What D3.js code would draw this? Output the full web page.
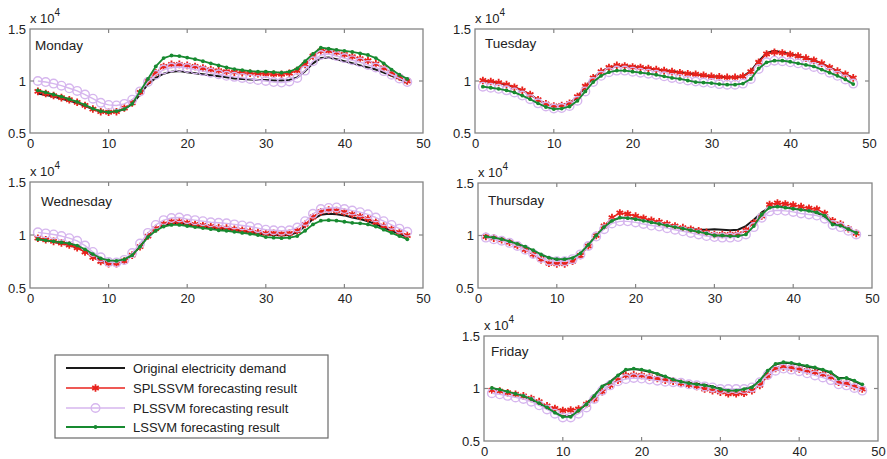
<!DOCTYPE html>
<html><head><meta charset="utf-8">
<script src="https://cdn.jsdelivr.net/npm/d3@7"></script>
<style>body{margin:0;background:#fff;} svg{display:block;} text{font-family:"Liberation Sans",Arial,Helvetica,sans-serif;fill:#222;}</style>
</head><body><svg id="c" width="887" height="459"></svg>
<script>
// half-hour periods
const periods = d3.range(1, 49);
const seriesNames = ["Original electricity demand","SPLSSVM forecasting result","PLSSVM forecasting result","LSSVM forecasting result"];
const days = ["Monday","Tuesday","Wednesday","Thursday","Friday"];
const xTicks = [0,10,20,30,40,50];
const yTicks = [5000,10000,15000];
const yTickLabels = ["0.5","1","1.5"];

const monOriginal = [8800,8650,8500,8300,8100,7900,7600,7300,7050,7000,7050,7300,7800,8700,9700,10300,10700,10900,10950,10850,10750,10650,10550,10450,10350,10250,10200,10150,10100,10100,10050,10050,10100,10350,10950,11700,12200,12250,12100,11900,11700,11500,11300,11100,10800,10500,10200,9800];
const monSPLSSVM = [9000,8800,8600,8400,8200,7950,7650,7300,7050,7000,7050,7400,7900,8900,10000,10800,11400,11600,11600,11500,11400,11250,11100,11000,10900,10850,10800,10750,10700,10700,10650,10650,10750,11000,11600,12400,12900,12900,12750,12550,12350,12150,11950,11650,11250,10800,10400,10000];
const monPLSSVM = [10000,9900,9750,9550,9300,9050,8700,8300,7900,7700,7650,7800,8200,9000,9900,10600,11100,11300,11350,11250,11100,10950,10800,10650,10500,10400,10300,10200,10100,10000,9900,9850,9950,10300,11000,11900,12500,12600,12400,12200,12000,11800,11550,11300,10950,10600,10250,9900];
const monLSSVM = [9100,8900,8700,8500,8250,8000,7700,7350,7100,7000,7100,7300,7800,9000,10200,11400,12200,12450,12400,12250,12100,11900,11700,11500,11300,11150,11050,10950,10900,10900,10850,10800,10900,11200,11900,12600,13200,13100,13000,12900,12800,12650,12500,12200,11700,11100,10600,10200];

const tueOriginal = [10000,9950,9800,9650,9400,9100,8700,8200,7800,7600,7650,7850,8450,9450,10300,10900,11300,11450,11450,11350,11300,11200,11100,11000,10950,10850,10750,10650,10550,10450,10400,10350,10350,10450,10950,11900,12700,12900,12750,12600,12400,12200,12000,11700,11300,10950,10650,10300];
const tueSPLSSVM = [10050,9950,9850,9650,9400,9100,8700,8200,7800,7600,7650,7850,8500,9500,10300,10900,11300,11500,11450,11350,11300,11200,11100,11000,10900,10800,10700,10650,10550,10450,10400,10350,10350,10450,10900,11800,12600,12750,12700,12550,12400,12200,12000,11700,11300,10950,10650,10300];
const tuePLSSVM = [9450,9350,9250,9100,8900,8600,8250,7850,7550,7350,7400,7600,8100,9000,9900,10500,10850,11000,11000,10900,10800,10700,10600,10450,10300,10200,10050,9950,9850,9800,9700,9650,9650,9750,10200,11150,11800,11950,11900,11800,11700,11550,11350,11100,10800,10500,10150,9750];
const tueLSSVM = [9450,9350,9250,9100,8900,8600,8250,7850,7500,7300,7350,7550,8100,9000,9900,10500,10850,11000,11000,10900,10800,10700,10600,10450,10300,10200,10050,9900,9850,9800,9700,9650,9650,9750,10200,11200,11800,11950,11950,11850,11700,11550,11400,11100,10800,10500,10150,9700];

const wedOriginal = [9650,9500,9350,9200,9050,8800,8450,8000,7600,7400,7400,7600,8100,8900,9900,10550,10950,11100,11100,11000,10900,10800,10700,10600,10550,10450,10350,10250,10150,10050,10000,9950,10000,10250,10850,11500,11900,12000,11950,11850,11650,11500,11300,11000,10700,10400,10100,9800];
const wedSPLSSVM = [9700,9550,9400,9250,9050,8800,8400,7900,7500,7300,7300,7550,8100,8900,9900,10600,11050,11250,11250,11150,11000,10900,10800,10700,10650,10550,10450,10350,10250,10150,10150,10100,10150,10400,11000,11700,12200,12350,12300,12150,11950,11750,11550,11200,10850,10550,10250,9950];
const wedPLSSVM = [10250,10150,10050,9900,9700,9450,9000,8400,7900,7450,7400,7650,8300,9200,10200,10950,11400,11600,11650,11500,11400,11300,11200,11150,11100,11000,10900,10800,10650,10500,10450,10400,10450,10700,11300,12000,12450,12550,12600,12450,12300,12150,11950,11650,11300,10950,10600,10300];
const wedLSSVM = [9600,9500,9400,9300,9200,9000,8650,8200,7800,7600,7550,7700,8100,8900,9800,10400,10800,10950,10950,10850,10750,10650,10550,10450,10400,10300,10200,10100,10000,9800,9750,9700,9750,9900,10400,11000,11350,11400,11350,11250,11150,11100,11000,10800,10500,10200,9900,9600];

const thuOriginal = [9900,9800,9650,9450,9200,8900,8550,8150,7850,7700,7700,7850,8300,9100,10000,10800,11400,11700,11700,11600,11450,11300,11150,11000,10850,10700,10600,10550,10550,10600,10550,10500,10550,10900,11500,12200,12650,12800,12700,12550,12450,12350,12150,11800,11200,11050,10600,10200];
const thuSPLSSVM = [9900,9750,9600,9350,9050,8650,8200,7700,7350,7300,7300,7550,8100,9000,10000,10900,11700,12150,12050,11850,11650,11450,11300,11100,10900,10750,10600,10450,10300,10100,10100,10100,10150,10500,11200,11850,12950,13100,13000,12900,12750,12600,12500,12100,11400,11100,10650,10200];
const thuPLSSVM = [9800,9650,9500,9300,9000,8650,8250,7850,7600,7550,7550,7750,8200,9000,9900,10600,11150,11350,11350,11250,11100,10950,10850,10700,10550,10400,10250,10100,9950,9850,9800,9800,9850,10100,10800,11700,12300,12400,12350,12250,12100,12000,11900,11600,11000,10800,10450,10100];
const thuLSSVM = [9900,9800,9650,9450,9200,8950,8600,8200,7900,7750,7750,7850,8300,9100,10000,10800,11400,11700,11650,11550,11400,11250,11100,10950,10800,10650,10500,10350,10200,10000,10000,9950,9950,10100,10900,12000,12650,12750,12650,12550,12450,12350,12200,11900,11050,10950,10600,10250];

const friOriginal = [10000,9850,9650,9450,9250,8950,8550,8150,7700,7350,7350,7900,8550,9350,10200,10650,11250,11750,11850,11750,11600,11400,11100,10850,10650,10550,10450,10350,10200,10000,9850,9850,9950,10150,10750,11650,12300,12450,12400,12250,12100,11950,11750,11500,11000,11000,10700,10350];
const friSPLSSVM = [9850,9750,9600,9450,9300,9050,8750,8350,8100,7900,7950,8050,8500,9000,9700,10300,10800,11250,11300,11250,11100,10950,10800,10700,10500,10350,10200,9950,9800,9650,9500,9500,9550,9800,10300,11200,11900,12050,11950,11850,11700,11550,11350,11100,10600,10500,10200,9950];
const friPLSSVM = [9550,9450,9300,9150,9000,8750,8400,8000,7600,7250,7250,7600,8200,9000,9800,10300,10700,10900,11000,10950,10850,10750,10650,10600,10550,10400,10300,10200,10100,9950,9950,9950,9950,10100,10600,11300,11700,11900,11800,11650,11450,11250,11050,10800,10400,10300,10050,9800];
const friLSSVM = [10050,9900,9700,9500,9300,9000,8600,8200,7700,7300,7300,7900,8500,9300,10200,10600,11250,11800,11900,11800,11650,11400,11150,10850,10650,10500,10400,10300,10150,9950,9800,9800,9950,10100,10750,11700,12350,12500,12450,12300,12150,12000,11800,11550,10950,11000,10750,10400];

const dayData = {
  Monday:[monOriginal,monSPLSSVM,monPLSSVM,monLSSVM],
  Tuesday:[tueOriginal,tueSPLSSVM,tuePLSSVM,tueLSSVM],
  Wednesday:[wedOriginal,wedSPLSSVM,wedPLSSVM,wedLSSVM],
  Thursday:[thuOriginal,thuSPLSSVM,thuPLSSVM,thuLSSVM],
  Friday:[friOriginal,friSPLSSVM,friPLSSVM,friLSSVM]
};

// layout / style
const layout = {
  Monday:{x0:30,x1:423,y0:29,y1:133,lx:5,ly:21},
  Tuesday:{x0:475,x1:869,y0:29,y1:133,lx:10,ly:19},
  Wednesday:{x0:30,x1:423,y0:182,y1:288,lx:11,ly:24},
  Thursday:{x0:478,x1:872,y0:183,y1:288,lx:10,ly:22},
  Friday:{x0:484,x1:878,y0:336,y1:441,lx:7,ly:20}
};
const styles = [
  {color:"#1a1a1a", width:2, marker:"none"},
  {color:"#e8221c", width:1.5, marker:"star"},
  {color:"#d6b6ee", width:1.4, marker:"circle"},
  {color:"#178a30", width:1.8, marker:"dot"}
];
const axisColor = "#858585";

const svg = d3.select("#c");
const star = d3.symbol().type(d3.symbolAsterisk).size(40);

function drawMarkers(g, pts, st){
  if(st.marker==="star"){
    g.selectAll(null).data(pts).join("path")
      .attr("d", star).attr("transform", d=>`translate(${d[0]},${d[1]})`)
      .attr("fill","none").attr("stroke",st.color).attr("stroke-width",1.8);
  } else if(st.marker==="circle"){
    g.selectAll(null).data(pts).join("circle")
      .attr("cx",d=>d[0]).attr("cy",d=>d[1]).attr("r",4.3)
      .attr("fill","none").attr("stroke",st.color).attr("stroke-width",1.4);
  } else if(st.marker==="dot"){
    g.selectAll(null).data(pts).join("circle")
      .attr("cx",d=>d[0]).attr("cy",d=>d[1]).attr("r",1.9)
      .attr("fill",st.color);
  }
}

days.forEach(day=>{
  const L = layout[day];
  const x = d3.scaleLinear().domain([0,50]).range([L.x0,L.x1]);
  const y = d3.scaleLinear().domain([5000,15000]).range([L.y1,L.y0]);
  const g = svg.append("g");

  dayData[day].forEach((vals,si)=>{
    const st = styles[si];
    const pts = vals.map((v,i)=>[x(periods[i]), y(v)]);
    const sg = g.append("g");
    sg.append("path").attr("d", d3.line()(pts)).attr("fill","none")
      .attr("stroke",st.color).attr("stroke-width",st.width).attr("stroke-linejoin","round");
    drawMarkers(sg, pts, st);
  });

  g.append("rect").attr("x",L.x0).attr("y",L.y0).attr("width",L.x1-L.x0).attr("height",L.y1-L.y0)
    .attr("fill","none").attr("stroke",axisColor).attr("stroke-width",1.3);

  const bottomAxis = d3.axisBottom(x).tickValues(xTicks).tickSize(0).tickPadding(6).tickFormat(d3.format("d"));
  const ax = g.append("g").attr("transform",`translate(0,${L.y1})`).call(bottomAxis);
  ax.select(".domain").remove();
  ax.selectAll("text").attr("font-size",13).attr("fill","#222")
    .attr("font-family","'Liberation Sans',Arial,Helvetica,sans-serif");
  xTicks.filter(t=>t>0&&t<50).forEach(t=>{
    g.append("line").attr("x1",x(t)).attr("x2",x(t)).attr("y1",L.y1).attr("y2",L.y1-4).attr("stroke",axisColor).attr("stroke-width",1.2);
    g.append("line").attr("x1",x(t)).attr("x2",x(t)).attr("y1",L.y0).attr("y2",L.y0+4).attr("stroke",axisColor).attr("stroke-width",1.2);
  });

  const leftAxis = d3.axisLeft(y).tickValues(yTicks).tickSize(0).tickPadding(4)
    .tickFormat((d,i)=>yTickLabels[i]);
  const ay = g.append("g").attr("transform",`translate(${L.x0},0)`).call(leftAxis);
  ay.select(".domain").remove();
  ay.selectAll("text").attr("font-size",13).attr("fill","#222")
    .attr("font-family","'Liberation Sans',Arial,Helvetica,sans-serif");
  [10000].forEach(t=>{
    g.append("line").attr("x1",L.x0).attr("x2",L.x0+4).attr("y1",y(t)).attr("y2",y(t)).attr("stroke",axisColor).attr("stroke-width",1.2);
    g.append("line").attr("x1",L.x1).attr("x2",L.x1-4).attr("y1",y(t)).attr("y2",y(t)).attr("stroke",axisColor).attr("stroke-width",1.2);
  });

  const ex = g.append("text").attr("x",L.x0).attr("y",L.y0-6).attr("font-size",13);
  ex.append("tspan").text("x 10");
  ex.append("tspan").attr("dy",-7).attr("font-size",10).text("4");

  g.append("text").attr("x",L.x0+L.lx).attr("y",L.y0+L.ly).attr("font-size",13.5).text(day);
});

// legend
const leg = svg.append("g");
leg.append("rect").attr("x",55).attr("y",355).attr("width",273).attr("height",83)
  .attr("fill","#fff").attr("stroke","#6a6a6a").attr("stroke-width",1.2);
const rowY = [368,388,408,427];
seriesNames.forEach((name,i)=>{
  const st = styles[i];
  const rg = leg.append("g");
  rg.append("line").attr("x1",66).attr("x2",125).attr("y1",rowY[i]).attr("y2",rowY[i])
    .attr("stroke",st.color).attr("stroke-width",st.width);
  drawMarkers(rg, [[95.5,rowY[i]]], st);
  rg.append("text").attr("x",133).attr("y",rowY[i]+4.5).attr("font-size",13).text(name);
});
</script></body></html>
